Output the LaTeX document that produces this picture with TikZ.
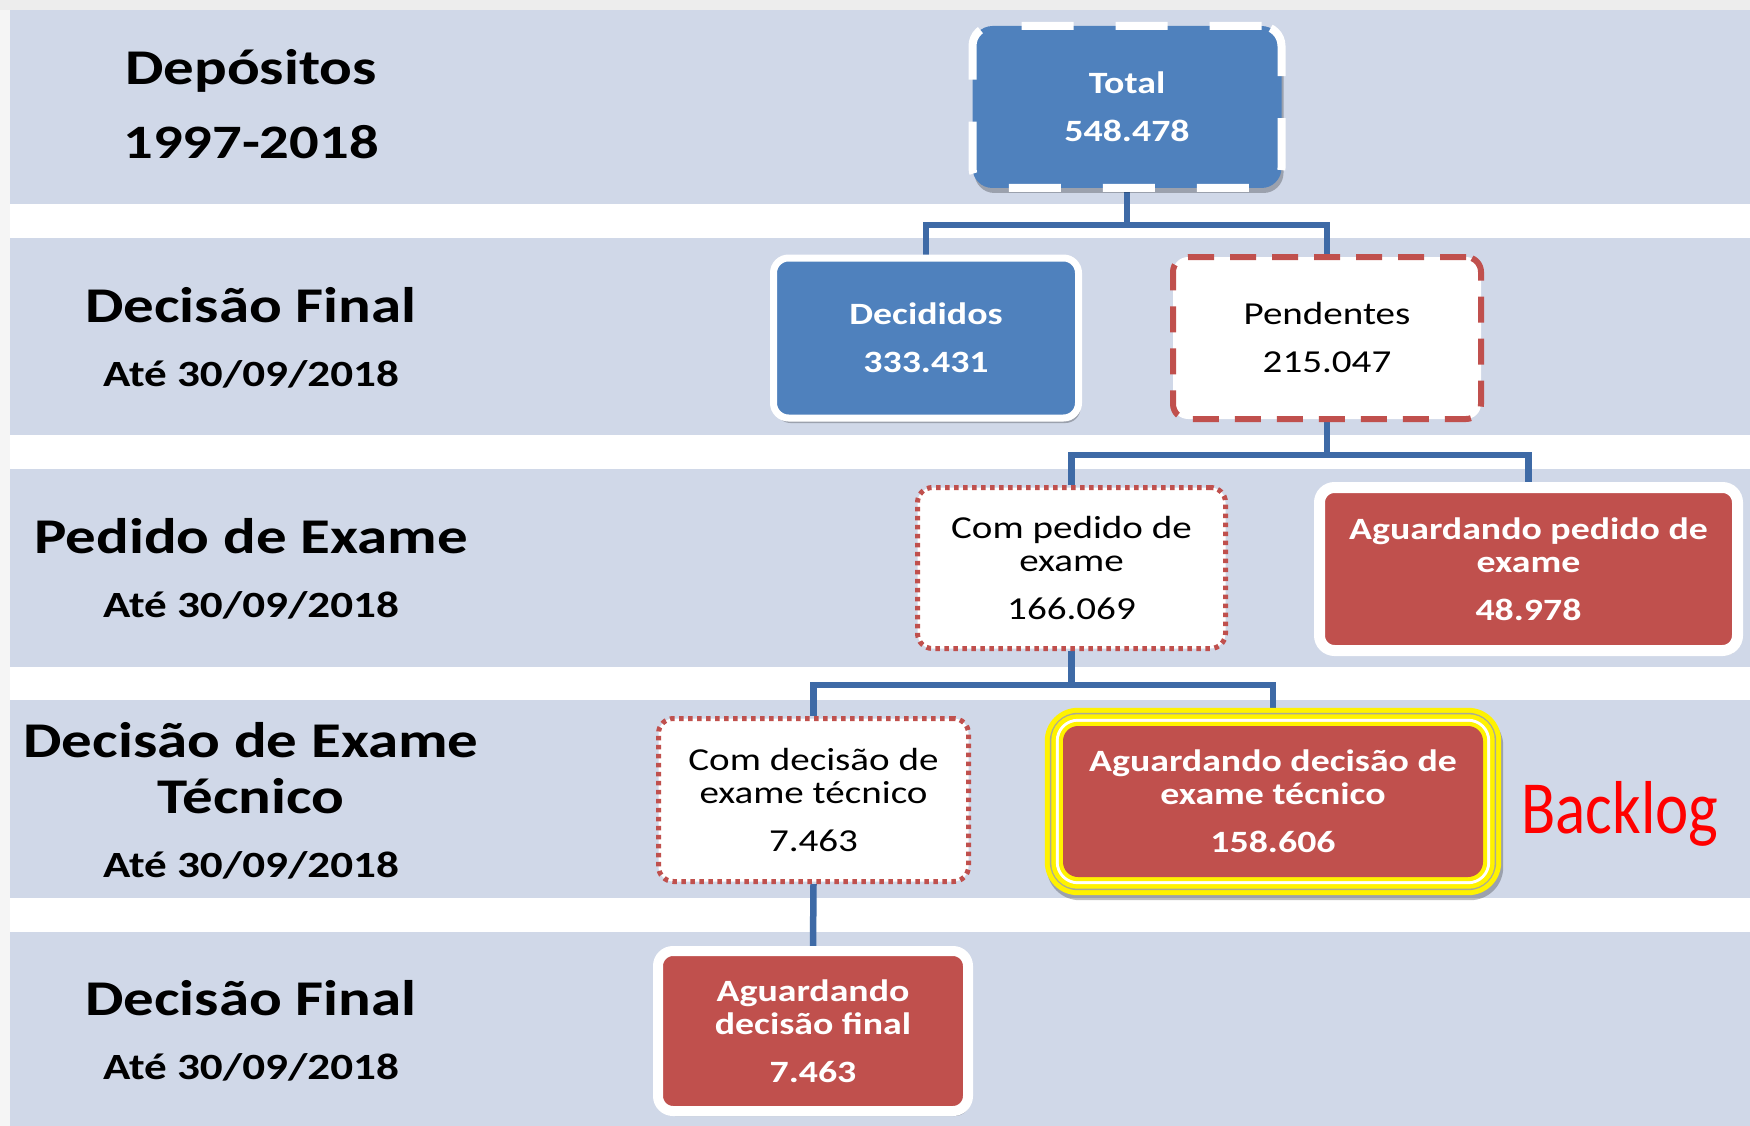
\documentclass[tikz,border=0pt]{standalone}
\usepackage{fontspec}
\setmainfont{Carlito}[FakeStretch=1.22]
\newfontfamily\backlogfont{Carlito}[FakeStretch=0.84]
\usetikzlibrary{shadows,calc}
\definecolor{band}{RGB}{208,216,232}
\definecolor{boxblue}{RGB}{79,129,189}
\definecolor{boxred}{RGB}{192,80,77}
\definecolor{connc}{RGB}{62,106,166}
\definecolor{ringgray}{RGB}{170,170,150}
\pgfdeclarelayer{bands}
\pgfdeclarelayer{links}
\pgfsetlayers{bands,links,main}
\begin{document}
\begin{tikzpicture}[x=1pt,y=-1pt,
  boxbase/.style={rectangle, rounded corners=15pt, align=center, inner sep=0pt,
    font=\fontsize{31}{33}\selectfont\bfseries},
  shad/.style={drop shadow={shadow xshift=2pt, shadow yshift=-5pt, opacity=0.25, fill=black}},
  totalbox/.style={boxbase, rounded corners=20pt, fill=boxblue, draw=white, text=white,
    line width=8pt, dash pattern=on 52pt off 42pt, shad},
  bluebox/.style={boxbase, fill=boxblue, draw=white, text=white, line width=7pt, shad},
  redbox/.style={boxbase, fill=boxred, draw=white, text=white, line width=11pt, shad},
  dashbox/.style={boxbase, fill=white, draw=boxred, text=black, line width=6pt,
    dash pattern=on 26pt off 16pt, font=\fontsize{32}{33}\selectfont},
  dotbox/.style={boxbase, fill=white, draw=boxred, text=black, line width=5pt,
    dash pattern=on 4.5pt off 4.5pt, font=\fontsize{32}{33}\selectfont},
  connl/.style={draw=connc, line width=6.5pt},
  lblbig/.style={anchor=base, font=\fontsize{50}{50}\selectfont\bfseries},
  lblsub/.style={anchor=base, font=\fontsize{37}{37}\selectfont\bfseries}
]
\useasboundingbox (0,0) rectangle (1750,1126);

% background bands
\begin{pgfonlayer}{bands}
  \fill[white] (0,0) rectangle (1750,1126);
  \fill[black!7] (0,0) rectangle (1750,10);
  \fill[black!4] (0,10) rectangle (10,1126);
  \fill[band] (10,10) rectangle (1750,204);
  \fill[band] (10,238) rectangle (1750,435);
  \fill[band] (10,469) rectangle (1750,667);
  \fill[band] (10,700) rectangle (1750,898);
  \fill[band] (10,932) rectangle (1750,1126);
\end{pgfonlayer}

% left labels
\node[lblbig] (l1a) at (251,85) {Depósitos};
\node[lblbig, font=\fontsize{48}{48}\selectfont\bfseries] (l1b) at (251,159) {1997-2018};
\node[lblbig] (l2a) at (251,322) {Decisão Final};
\node[lblsub] (l2b) at (251,386) {Até 30/09/2018};
\node[lblbig] (l3a) at (251,553) {Pedido de Exame};
\node[lblsub] (l3b) at (251,617) {Até 30/09/2018};
\node[lblbig] (l4a) at (251,757) {Decisão de Exame};
\node[lblbig] (l4b) at (251,813) {Técnico};
\node[lblsub] (l4c) at (251,877) {Até 30/09/2018};
\node[lblbig] (l5a) at (251,1015) {Decisão Final};
\node[lblsub] (l5b) at (251,1079) {Até 30/09/2018};

% boxes
\node[totalbox, minimum width=309pt, minimum height=162pt] (total) at (1127,107)
  {Total\\[15pt]548.478};
\node[bluebox, minimum width=305pt, minimum height=160pt] (dec) at (926,338)
  {Decididos\\[15pt]333.431};
\node[dashbox, minimum width=308pt, minimum height=162pt] (pend) at (1327,338)
  {Pendentes\\[15pt]215.047};
\node[dotbox, minimum width=308pt, minimum height=161pt] (compe) at (1071.5,568)
  {Com pedido de\\exame\\[15pt]166.069};
\node[redbox, minimum width=418pt, minimum height=163pt] (agpe) at (1528.5,569)
  {Aguardando pedido de\\exame\\[15pt]48.978};
\node[dotbox, minimum width=310pt, minimum height=163pt] (comdec) at (813.5,800)
  {Com decisão de\\exame técnico\\[15pt]7.463};
\node[boxbase, fill=boxred, text=white, minimum width=420pt, minimum height=151pt] (agdec) at (1273,801.5)
  {Aguardando decisão de\\exame técnico\\[15pt]158.606};
\node[redbox, line width=10pt, minimum width=310pt, minimum height=160pt] (agfin) at (813,1031)
  {Aguardando\\decisão final\\[15pt]7.463};

\node[anchor=base, text=red, font=\backlogfont\fontsize{75}{75}\selectfont] (backlog) at (1620,833) {Backlog};

% connectors and highlight rings
\begin{pgfonlayer}{links}
  \draw[connl] (total.south) -- ++(0,33) -| (dec.north);
  \draw[connl] (total.south) -- ++(0,33) -| (pend.north);
  \draw[connl] (pend.south) -- ++(0,33) -| (compe.north);
  \draw[connl] (pend.south) -- ++(0,33) -| (agpe.north);
  \draw[connl] (compe.south) -- ++(0,34) -| (comdec.north);
  \draw[connl] (compe.south) -- ++(0,34) -| (agdec.north);
  \draw[connl] (comdec.south) -- (agfin.north);
  \fill[yellow, rounded corners=33pt, shad] ($(agdec.north west)+(-18,-18)$) rectangle ($(agdec.south east)+(18,18)$);
  \fill[ringgray, rounded corners=28pt] ($(agdec.north west)+(-13,-13)$) rectangle ($(agdec.south east)+(13,13)$);
  \fill[yellow, rounded corners=26pt] ($(agdec.north west)+(-11.5,-11.5)$) rectangle ($(agdec.south east)+(11.5,11.5)$);
  \fill[white, rounded corners=22pt] ($(agdec.north west)+(-7,-7)$) rectangle ($(agdec.south east)+(7,7)$);
  \fill[yellow, rounded corners=19pt] ($(agdec.north west)+(-4,-4)$) rectangle ($(agdec.south east)+(4,4)$);
\end{pgfonlayer}
\end{tikzpicture}
\end{document}
